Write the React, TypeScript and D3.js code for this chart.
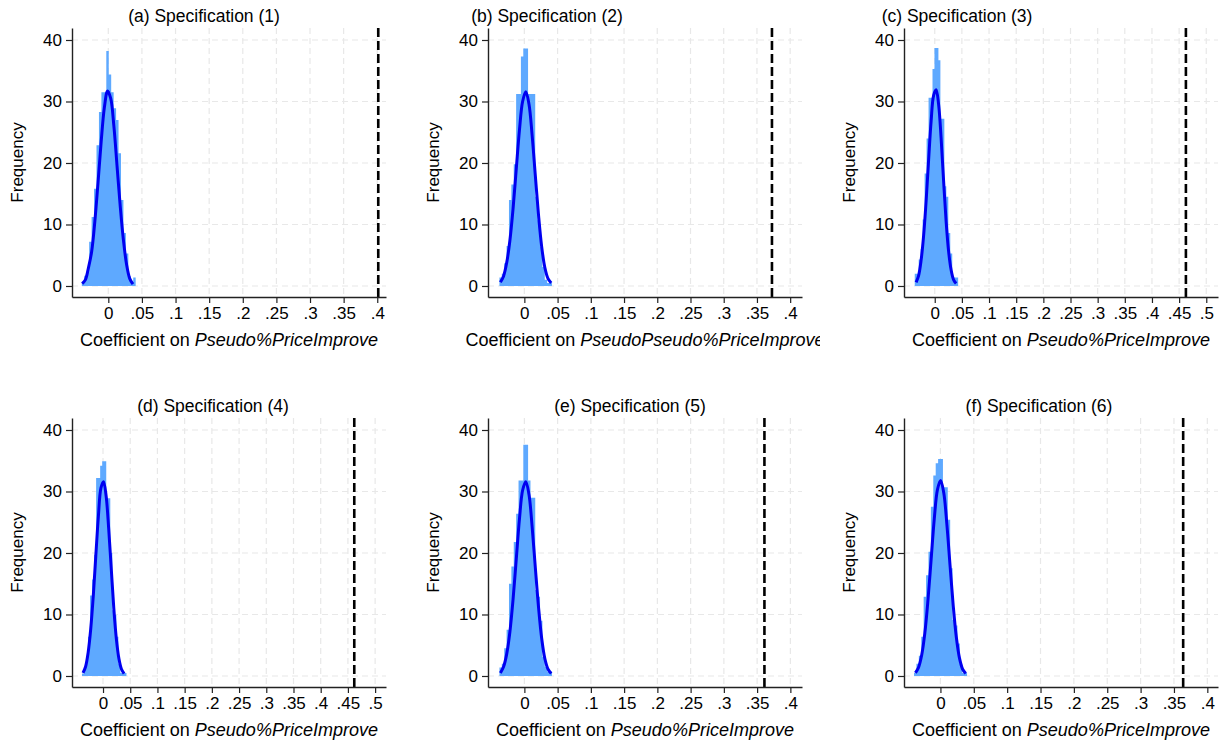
import React, { useEffect, useRef } from "react";
import * as d3 from "d3";

// panel titles and x variable names
const titles = [
  "(a) Specification (1)",
  "(b) Specification (2)",
  "(c) Specification (3)",
  "(d) Specification (4)",
  "(e) Specification (5)",
  "(f) Specification (6)",
];
const xVarNames = [
  "Pseudo%PriceImprove",
  "PseudoPseudo%PriceImprove",
  "Pseudo%PriceImprove",
  "Pseudo%PriceImprove",
  "Pseudo%PriceImprove",
  "Pseudo%PriceImprove",
];

// axes
const xTickMax = [0.4, 0.4, 0.5, 0.5, 0.4, 0.4];
const xRanges = [
  [-0.054, 0.413],
  [-0.0547, 0.4178],
  [-0.0566, 0.5216],
  [-0.057, 0.52],
  [-0.0547, 0.4175],
  [-0.0546, 0.416],
];
const yTicks = [0, 10, 20, 30, 40];
const yRange = [-1.79, 41.95];

// actual coefficient (dashed line)
const observedCoef = [0.4015, 0.3726, 0.4625, 0.4617, 0.361, 0.3638];

// histogram bins (22 per panel)
const histRange = [
  [-0.0394, 0.0407],
  [-0.0375, 0.0415],
  [-0.0368, 0.0431],
  [-0.0387, 0.0431],
  [-0.0375, 0.0415],
  [-0.0396, 0.0399],
];
const histA = [0.55, 1.65, 2.2, 7.2, 11.2, 15.8, 22.9, 28.3, 31.5, 31.5, 38.2, 34.4, 31.5, 28.9, 27.0, 21.6, 14.0, 8.6, 5.3, 1.6, 0.55, 1.4];
const histB = [1.4, 2.0, 3.7, 6.5, 14.0, 16.5, 19.8, 31.2, 31.2, 37.3, 38.6, 38.6, 31.2, 31.2, 31.2, 14.5, 10.7, 6.4, 3.1, 1.0, 0.5, 0.5];
const histC = [2.0, 2.0, 4.3, 6.0, 10.8, 18.3, 24.0, 30.6, 30.6, 35.3, 38.7, 38.7, 36.7, 27.2, 27.2, 16.2, 14.5, 8.6, 5.3, 1.5, 1.4, 1.4];
const histD = [0.4, 1.5, 3.0, 6.4, 13.1, 15.7, 19.7, 32.2, 32.2, 34.2, 34.9, 34.9, 28.9, 28.9, 20.0, 10.7, 9.9, 6.4, 2.0, 0.5, 0.5, 0.5];
const histE = [1.4, 2.0, 4.5, 7.5, 15.0, 17.8, 21.8, 26.4, 31.8, 31.8, 37.6, 37.6, 31.8, 29.0, 29.0, 14.0, 12.9, 9.0, 3.1, 1.5, 0.7, 0.7];
const histF = [0.5, 2.0, 3.3, 6.4, 12.9, 16.4, 20.2, 27.5, 32.6, 34.6, 35.3, 35.3, 30.7, 30.7, 25.4, 17.5, 9.1, 8.2, 5.3, 2.0, 0.5, 0.5];
const hists = [histA, histB, histC, histD, histE, histF];

// kernel density (17 evenly spaced points over kdRange)
const kdRange = [
  [-0.0389, 0.0366],
  [-0.0361, 0.0404],
  [-0.0343, 0.0394],
  [-0.0368, 0.0387],
  [-0.0361, 0.0404],
  [-0.0375, 0.038],
];
const kdA = [0.4, 1.0, 3.0, 5.6, 10.5, 16.8, 23.5, 29.0, 31.7, 30.5, 26.0, 19.5, 13.0, 7.5, 3.5, 1.2, 0.3];
const kdB = [0.6, 1.6, 3.8, 7.4, 12.6, 19.0, 25.3, 30.0, 31.6, 29.6, 24.5, 18.0, 11.6, 6.4, 3.0, 1.2, 0.5];
const kdC = [0.6, 1.7, 4.2, 8.2, 13.8, 20.5, 26.8, 31.0, 31.9, 29.5, 24.0, 17.0, 10.5, 5.6, 2.6, 1.0, 0.4];
const kdD = [0.5, 1.5, 3.8, 7.6, 13.0, 19.6, 26.0, 30.6, 31.6, 29.3, 24.0, 17.5, 11.0, 6.0, 2.8, 1.1, 0.4];
const kdE = [0.5, 1.5, 3.6, 7.2, 12.5, 19.0, 25.5, 30.2, 31.6, 29.5, 24.2, 17.6, 11.2, 6.1, 2.8, 1.1, 0.4];
const kdF = [0.5, 1.4, 3.4, 7.0, 12.4, 19.0, 25.6, 30.3, 31.8, 29.8, 24.6, 18.0, 11.5, 6.3, 2.9, 1.1, 0.4];
const kds = [kdA, kdB, kdC, kdD, kdE, kdF];

// layout
const W = 1225;
const H = 745;
const colLeft = [72, 488, 904];
const rowTop = [28, 418];
const plotW = 314;
const plotH = 269;
const titleX = [204, 547, 957, 213, 630, 1039];
const FONT = "'Liberation Sans', Arial, Helvetica, sans-serif";

const fmtTick = (d) => (d === 0 ? "0" : d3.format(".2~f")(d).replace(/^0/, ""));

const App = () => {
  const svgRef = useRef();

  useEffect(() => {
    const root = d3.select(svgRef.current);
    root.selectAll("*").remove();
    root.attr("width", W).attr("height", H);
    root.append("rect").attr("width", W).attr("height", H).attr("fill", "#fff");

    const defs = root.append("defs");

    titles.forEach((title, p) => {
      const col = p % 3;
      const row = Math.floor(p / 3);
      const left = colLeft[col];
      const top = rowTop[row];
      const bottom = top + plotH;

      // each panel is clipped to its own box (cuts the long label in (b))
      const clipId = `clip${p}`;
      defs
        .append("clipPath")
        .attr("id", clipId)
        .append("rect")
        .attr("x", left - 72)
        .attr("y", top - 40)
        .attr("width", col === 1 ? 820 - (left - 72) : 420)
        .attr("height", 390);

      const g = root.append("g").attr("clip-path", `url(#${clipId})`);

      const xs = d3.scaleLinear().domain(xRanges[p]).range([left, left + plotW]);
      const ys = d3.scaleLinear().domain(yRange).range([bottom, top]);
      const xTicks = d3.range(0, xTickMax[p] + 1e-9, 0.05).map((d) => +d.toFixed(2));

      // grid
      g.selectAll(".hgrid")
        .data(yTicks)
        .enter()
        .append("line")
        .attr("x1", left)
        .attr("x2", left + plotW)
        .attr("y1", (d) => ys(d))
        .attr("y2", (d) => ys(d))
        .attr("stroke", "#e8e8e8")
        .attr("stroke-width", 1.2)
        .attr("stroke-dasharray", "6,4");
      g.selectAll(".vgrid")
        .data(xTicks)
        .enter()
        .append("line")
        .attr("x1", (d) => xs(d))
        .attr("x2", (d) => xs(d))
        .attr("y1", top)
        .attr("y2", bottom)
        .attr("stroke", "#e8e8e8")
        .attr("stroke-width", 1.2)
        .attr("stroke-dasharray", "6,4");

      // histogram as one step area, so no seams between bars
      const [lo, hi] = histRange[p];
      const bw = (hi - lo) / hists[p].length;
      const steps = hists[p].map((h, i) => [lo + i * bw, h]);
      steps.push([hi, hists[p][hists[p].length - 1]]);
      const area = d3
        .area()
        .x((d) => xs(d[0]))
        .y0(ys(0))
        .y1((d) => ys(d[1]))
        .curve(d3.curveStepAfter);
      g.append("path").attr("d", area(steps)).attr("fill", "#5ea9ff");

      // kernel density
      const [klo, khi] = kdRange[p];
      const kstep = (khi - klo) / (kds[p].length - 1);
      const line = d3
        .line()
        .x((d, i) => xs(klo + i * kstep))
        .y((d) => ys(d))
        .curve(d3.curveCatmullRom.alpha(0.5));
      g.append("path")
        .attr("d", line(kds[p]))
        .attr("fill", "none")
        .attr("stroke", "#0000f0")
        .attr("stroke-width", 3)
        .attr("stroke-linejoin", "round");

      // observed coefficient
      g.append("line")
        .attr("x1", xs(observedCoef[p]))
        .attr("x2", xs(observedCoef[p]))
        .attr("y1", top)
        .attr("y2", bottom)
        .attr("stroke", "#000")
        .attr("stroke-width", 2.6)
        .attr("stroke-dasharray", "9,4");

      // axes
      const xAxis = g
        .append("g")
        .attr("transform", `translate(0,${bottom})`)
        .call(d3.axisBottom(xs).tickValues(xTicks).tickFormat(fmtTick).tickSize(6).tickSizeOuter(0).tickPadding(4));
      const yAxis = g
        .append("g")
        .attr("transform", `translate(${left},0)`)
        .call(d3.axisLeft(ys).tickValues(yTicks).tickSize(6).tickSizeOuter(0).tickPadding(4));
      [xAxis, yAxis].forEach((ax) => {
        ax.select(".domain").attr("stroke", "#222").attr("stroke-width", 1.4);
        ax.selectAll(".tick line").attr("stroke", "#222").attr("stroke-width", 1.2);
        ax.selectAll("text").attr("font-family", FONT).attr("font-size", 17).attr("fill", "#000");
      });

      // titles and labels
      g.append("text")
        .attr("x", titleX[p])
        .attr("y", top - 6)
        .attr("text-anchor", "middle")
        .attr("font-family", FONT)
        .attr("font-size", 17.5)
        .text(title);

      const xl = g
        .append("text")
        .attr("x", left + plotW / 2)
        .attr("y", bottom + 49)
        .attr("text-anchor", "middle")
        .attr("font-family", FONT)
        .attr("font-size", 18);
      xl.append("tspan").text("Coefficient on ");
      xl.append("tspan").attr("font-style", "italic").text(xVarNames[p]);

      g.append("text")
        .attr("transform", `translate(${left - 55},${top + plotH / 2}) rotate(-90)`)
        .attr("text-anchor", "middle")
        .attr("dominant-baseline", "central")
        .attr("font-family", FONT)
        .attr("font-size", 17)
        .text("Frequency");
    });
  }, []);

  return (
    <div>
      <svg ref={svgRef} style={{ position: "absolute", left: 0, top: 0 }}></svg>
    </div>
  );
};

export default App;
